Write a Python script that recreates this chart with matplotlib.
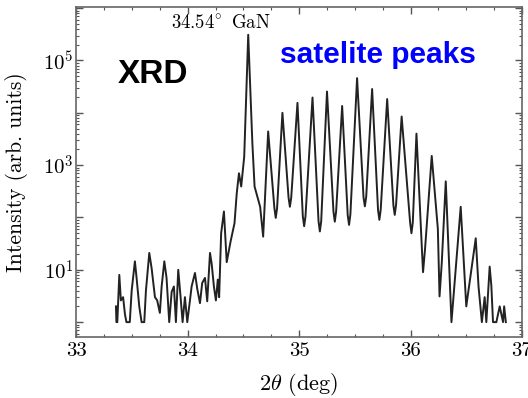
import numpy as np
import matplotlib
matplotlib.use("Agg")
import matplotlib.pyplot as plt
from matplotlib.ticker import FixedLocator, FuncFormatter, LogLocator

# spectrum: 2theta (deg) and intensity (arb. units)
two_theta = [
    33.356, 33.360, 33.368, 33.386, 33.400, 33.420, 33.437, 33.450, 33.480, 33.497,
    33.526, 33.540, 33.565, 33.586, 33.610, 33.625, 33.655, 33.676, 33.706, 33.726,
    33.750, 33.766, 33.790, 33.810, 33.834, 33.856, 33.876, 33.894, 33.915, 33.936,
    33.954, 33.975, 33.996, 34.020, 34.035, 34.065, 34.085, 34.110, 34.130, 34.155,
    34.175, 34.200, 34.215, 34.235, 34.253, 34.270, 34.282, 34.300, 34.325, 34.350,
    34.385, 34.420, 34.440, 34.460, 34.480, 34.507, 34.543, 34.580, 34.600, 34.650,
    34.677, 34.722, 34.778, 34.790, 34.802, 34.850, 34.905, 34.917, 34.929, 34.985,
    35.033, 35.045, 35.057, 35.120, 35.174, 35.186, 35.198, 35.250, 35.308, 35.320,
    35.332, 35.386, 35.436, 35.448, 35.460, 35.520, 35.578, 35.590, 35.602, 35.655,
    35.708, 35.720, 35.732, 35.790, 35.846, 35.858, 35.870, 35.920, 35.996, 36.008,
    36.020, 36.053, 36.100, 36.112, 36.130, 36.190, 36.245, 36.260, 36.280, 36.316,
    36.367, 36.450, 36.500, 36.585, 36.610, 36.640, 36.665, 36.680, 36.710, 36.725,
    36.740, 36.770, 36.800, 36.830, 36.840, 36.855,
]
intensity = [
    2, 1, 1, 8, 2.6, 3, 1.4, 1, 1, 4,
    14.5, 7.4, 2, 1, 1, 4, 21, 10.7, 3, 2.6,
    1.5, 4.8, 14.5, 7, 1, 3.8, 4.8, 1, 10, 3,
    1, 3, 1, 2.6, 4.8, 8.7, 4.4, 2.3, 5.6, 7,
    2.5, 21, 13, 4.8, 2.6, 6.5, 3, 50, 130, 14,
    35, 78, 290, 700, 390, 1450, 3.1e5, 2700, 390, 160,
    43, 4400, 150, 98, 150, 1.0e4, 240, 160, 240, 15500,
    105, 68, 105, 19600, 85, 54, 85, 25500, 130, 83,
    130, 13500, 110, 72, 115, 46000, 240, 163, 250, 28500,
    140, 90, 140, 18300, 170, 112, 175, 8500, 80, 50,
    80, 4000, 30, 9, 25, 1500, 60, 3.1, 13.5, 490,
    1, 160, 2, 40, 4.8, 1, 3, 1, 11.5, 5,
    1, 1, 2, 1, 2, 1,
]

x_major = [33, 34, 35, 36, 37]
y_decades = [1e0, 1e1, 1e2, 1e3, 1e4, 1e5, 1e6]
y_labeled = [1e1, 1e3, 1e5]

plt.rcParams['font.family'] = 'serif'
plt.rcParams['font.serif'] = ['cmr10']
plt.rcParams['mathtext.fontset'] = 'cm'
plt.rcParams['axes.formatter.use_mathtext'] = True

fig = plt.figure(figsize=(5.28, 3.98), dpi=100)
ax = fig.add_axes([0.1445, 0.1533, 0.8441, 0.829])

ax.plot(two_theta, intensity, color='#222222', lw=1.4)
ax.set_yscale('log')
ax.set_xlim(33, 37)
ax.set_ylim(0.52, 1.05e6)

ax.xaxis.set_major_locator(FixedLocator(x_major))
ax.xaxis.set_minor_locator(FixedLocator(np.arange(33, 37.01, 0.25)))
ax.yaxis.set_major_locator(FixedLocator(y_decades))
ax.yaxis.set_minor_locator(LogLocator(base=10, subs=np.arange(2, 10), numticks=20))


def ylab(v, pos):
    if v in y_labeled:
        return r'$10^{%d}$' % int(round(np.log10(v)))
    return ''


ax.yaxis.set_major_formatter(FuncFormatter(ylab))
ax.yaxis.set_minor_formatter(FuncFormatter(lambda v, p: ''))
ax.xaxis.set_major_formatter(FuncFormatter(lambda v, p: '%d' % v))

ax.tick_params(which='both', direction='in', top=True, right=True,
               color='#555555', labelsize=15)
ax.tick_params(axis='y', pad=2)
ax.tick_params(which='major', length=5, width=1)
ax.tick_params(which='minor', length=2.5, width=0.8)
for s in ax.spines.values():
    s.set_color('#666666')
    s.set_linewidth(1.2)

ax.set_xlabel(r'$2\theta$ (deg)', fontsize=16, labelpad=8)
ax.set_ylabel('Intensity (arb. units)', fontsize=15.5)
ax.yaxis.set_label_coords(-0.108, 0.5)

ax.text(34.30, 10**5.72, r'$34.54^{\!\circ}$ GaN', fontsize=13.5, ha='center', va='center')
ax.text(0.093, 0.770, 'XRD', transform=ax.transAxes, fontsize=24, fontweight='bold',
        family='Liberation Sans', color='black', va='baseline')
ax.text(0.457, 0.830, 'satelite peaks', transform=ax.transAxes, fontsize=21.5,
        fontweight='bold', family='Liberation Sans', color='#0000ff', va='baseline')

fig.savefig('out.png', dpi=100)
